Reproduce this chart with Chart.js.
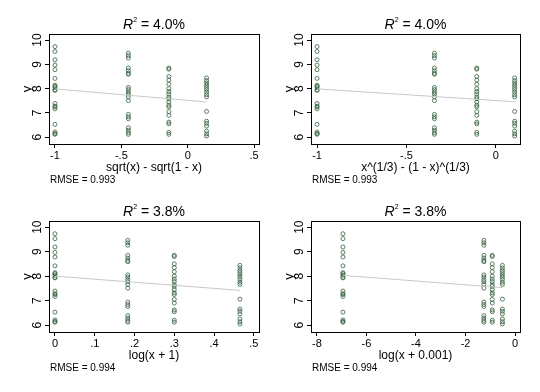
<!DOCTYPE html>
<html>
<head>
<meta charset="utf-8">
<script src="https://cdn.jsdelivr.net/npm/chart.js@4.4.1/dist/chart.umd.min.js"></script>
<style>
  body { margin: 0; background: #fff; width: 540px; height: 392px; position: relative; overflow: hidden; }
  .panel { position: absolute; width: 270px; height: 196px; }
</style>
</head>
<body>
<div class="panel" style="left:0;top:0"><canvas id="c1" width="270" height="196"></canvas></div>
<div class="panel" style="left:270px;top:0"><canvas id="c2" width="270" height="196"></canvas></div>
<div class="panel" style="left:0;top:196px"><canvas id="c3" width="270" height="196"></canvas></div>
<div class="panel" style="left:270px;top:196px"><canvas id="c4" width="270" height="196"></canvas></div>
<script>
// y values for each of the four x groups (same data in every panel)
const yGroup1 = [9.73, 9.53, 9.19, 8.97, 8.78, 8.42, 8.14, 8.10, 8.04, 7.95, 7.93, 7.39, 7.28, 7.25, 7.17, 6.53, 6.21, 6.15, 6.12];
const yGroup2 = [9.46, 9.36, 9.26, 8.85, 8.74, 8.64, 8.59, 8.05, 7.96, 7.86, 7.77, 7.66, 7.51, 6.94, 6.84, 6.76, 6.39, 6.29, 6.19, 6.12];
const yGroup3 = [8.85, 8.80, 8.50, 8.35, 8.18, 8.00, 7.88, 7.78, 7.65, 7.58, 7.45, 7.32, 7.25, 7.05, 6.90, 6.62, 6.55, 6.20, 6.12];
const yGroup4 = [8.44, 8.33, 8.23, 8.14, 8.05, 7.96, 7.86, 7.75, 7.66, 7.06, 6.66, 6.57, 6.46, 6.25, 6.14, 6.05];

// x position of each group, per transform
const xSqrt = [-1, -0.447, -0.142, 0.142];
const xCube = [-1, -0.343, -0.106, 0.106];
const xLog1 = [0, 0.183, 0.30, 0.465];
const xLog001 = [-6.95, -1.26, -0.92, -0.51];

// fitted line, y at first and last group
const fitSqrt = [7.99, 7.45];
const fitCube = [7.99, 7.46];
const fitLog1 = [8.00, 7.42];
const fitLog001 = [8.03, 7.53];

const yTicks = [6, 7, 8, 9, 10];
const ticksSqrt = [-1, -0.5, 0, 0.5];
const ticksCube = [-1, -0.5, 0];
const ticksLog1 = [0, 0.1, 0.2, 0.3, 0.4, 0.5];
const ticksLog001 = [-8, -6, -4, -2, 0];

const FONT = "'Liberation Sans Narrow', 'Liberation Sans', Arial, sans-serif";
const groups = [yGroup1, yGroup2, yGroup3, yGroup4];

function fmt(v) {
  if (v === 0) return '0';
  return String(Math.round(v * 1000) / 1000).replace(/^(-?)0\./, '$1.');
}

const panels = [
  { id: 'c1', xs: xSqrt, fit: fitSqrt, ticks: ticksSqrt, min: -1.045, max: 0.537,
    title: 'sqrt(x) - sqrt(1 - x)', r2: '4.0%', rmse: '0.993', box: { l: 49, r: 259, t: 34, b: 144 } },
  { id: 'c2', xs: xCube, fit: fitCube, ticks: ticksCube, min: -1.034, max: 0.136,
    title: 'x^(1/3) - (1 - x)^(1/3)', r2: '4.0%', rmse: '0.993', box: { l: 41, r: 250, t: 34, b: 144 } },
  { id: 'c3', xs: xLog1, fit: fitLog1, ticks: ticksLog1, min: -0.015, max: 0.513,
    title: 'log(x + 1)', r2: '3.8%', rmse: '0.994', box: { l: 49, r: 259, t: 25, b: 136 } },
  { id: 'c4', xs: xLog001, fit: fitLog001, ticks: ticksLog001, min: -8.24, max: 0.2,
    title: 'log(x + 0.001)', r2: '3.8%', rmse: '0.994', box: { l: 41, r: 250, t: 25, b: 136 } }
];

const decor = {
  id: 'decor',
  afterDraw(chart, args, opts) {
    const { ctx, chartArea: a, scales } = chart;
    ctx.save();
    ctx.strokeStyle = '#000';
    ctx.lineWidth = 1;
    ctx.strokeRect(Math.round(a.left) + 0.5, Math.round(a.top) + 0.5,
      Math.round(a.right - a.left), Math.round(a.bottom - a.top));
    ctx.fillStyle = '#000';

    // rotated y tick labels
    ctx.font = '12px ' + FONT;
    ctx.textAlign = 'center';
    ctx.textBaseline = 'middle';
    yTicks.forEach(v => {
      ctx.save();
      ctx.translate(a.left - 11, scales.y.getPixelForValue(v));
      ctx.rotate(-Math.PI / 2);
      ctx.fillText(String(v), 0, 0);
      ctx.restore();
    });
    ctx.save();
    ctx.translate(a.left - 22, (a.top + a.bottom) / 2);
    ctx.rotate(-Math.PI / 2);
    ctx.font = '13px ' + FONT;
    ctx.fillText('y', 0, 0);
    ctx.restore();

    // x axis title
    ctx.font = '12px ' + FONT;
    ctx.fillText(opts.title, (a.left + a.right) / 2, a.bottom + 24);

    // R^2 title
    const cx = (a.left + a.right) / 2, ty = a.top - 9;
    const rest = ' = ' + opts.r2;
    ctx.font = 'italic 14px ' + FONT;
    const wR = ctx.measureText('R').width;
    ctx.font = '7px ' + FONT;
    const w2 = ctx.measureText('2').width;
    ctx.font = '14px ' + FONT;
    const wRest = ctx.measureText(rest).width;
    let x0 = cx - (wR + w2 + wRest) / 2;
    ctx.textAlign = 'left';
    ctx.font = 'italic 14px ' + FONT;
    ctx.fillText('R', x0, ty);
    ctx.font = '7px ' + FONT;
    ctx.fillText('2', x0 + wR, ty - 5);
    ctx.font = '14px ' + FONT;
    ctx.fillText(rest, x0 + wR + w2, ty);

    // RMSE note
    ctx.font = '10px ' + FONT;
    ctx.fillText('RMSE = ' + opts.rmse, a.left + 1, a.bottom + 36);
    ctx.restore();
  }
};

panels.forEach(p => {
  const pts = [];
  groups.forEach((g, i) => g.forEach(y => pts.push({ x: p.xs[i], y: y })));
  const axisGrid = { drawOnChartArea: false, drawTicks: true, tickLength: 4, color: '#000', lineWidth: 1 };
  new Chart(document.getElementById(p.id), {
    type: 'scatter',
    data: {
      datasets: [
        {
          type: 'line',
          data: [{ x: p.xs[0], y: p.fit[0] }, { x: p.xs[3], y: p.fit[1] }],
          borderColor: '#c8c8c8',
          borderWidth: 1,
          pointRadius: 0,
          fill: false
        },
        {
          data: pts,
          pointStyle: 'circle',
          pointRadius: 2,
          borderWidth: 0.8,
          borderColor: '#35603f',
          backgroundColor: 'rgba(0,0,0,0)'
        }
      ]
    },
    options: {
      responsive: false,
      animation: false,
      devicePixelRatio: 1,
      layout: { padding: { left: 0, right: 270 - p.box.r, top: p.box.t, bottom: 0 } },
      plugins: {
        legend: { display: false },
        tooltip: { enabled: false },
        decor: { title: p.title, r2: p.r2, rmse: p.rmse }
      },
      scales: {
        x: {
          type: 'linear',
          min: p.min,
          max: p.max,
          afterBuildTicks: s => { s.ticks = p.ticks.map(v => ({ value: v })); },
          afterFit: s => { s.height = 196 - p.box.b; },
          grid: axisGrid,
          border: { display: true, color: '#000', width: 1 },
          ticks: { font: { family: FONT, size: 11 }, color: '#000', padding: 1,
            maxRotation: 0, autoSkip: false, callback: v => fmt(v) }
        },
        y: {
          type: 'linear',
          min: 5.72,
          max: 10.25,
          afterBuildTicks: s => { s.ticks = yTicks.map(v => ({ value: v })); },
          afterFit: s => { s.width = p.box.l; },
          grid: axisGrid,
          border: { display: true, color: '#000', width: 1 },
          ticks: { display: false }
        }
      }
    },
    plugins: [decor]
  });
});
</script>
</body>
</html>
